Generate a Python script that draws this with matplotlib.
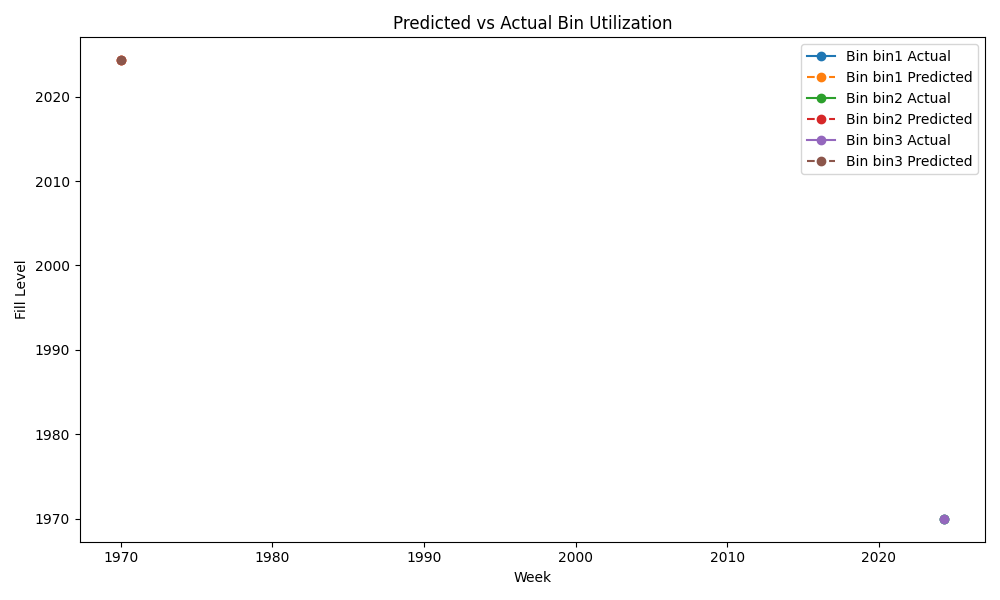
import matplotlib
matplotlib.use("Agg")
from matplotlib import pyplot as plt

# values as they appear on the axes (week and fill got swapped in the original)
bins = ["bin1", "bin2", "bin3"]
actual_week = [2024.3, 2024.3, 2024.3]
actual_fill = [1970.0, 1970.0, 1970.0]
predicted_week = [1970.0, 1970.0, 1970.0]
predicted_fill = [2024.3, 2024.3, 2024.3]

fig, ax = plt.subplots(figsize=(10, 6), dpi=100)
for i, b in enumerate(bins):
    ax.plot([actual_week[i]], [actual_fill[i]], marker="o", linestyle="-",
            label=f"Bin {b} Actual")
    ax.plot([predicted_week[i]], [predicted_fill[i]], marker="o", linestyle="--",
            label=f"Bin {b} Predicted")

ax.set_title("Predicted vs Actual Bin Utilization")
ax.set_xlabel("Week")
ax.set_ylabel("Fill Level")
ax.legend(loc="upper right")
fig.tight_layout()
fig.savefig("out.png")
